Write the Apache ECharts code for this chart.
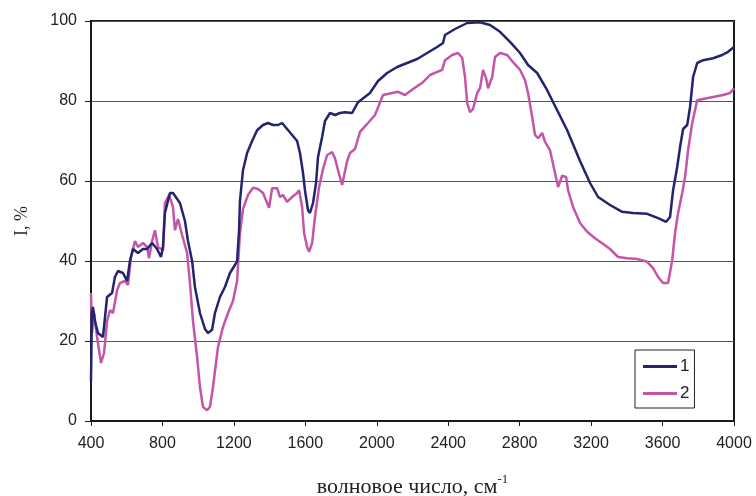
<!DOCTYPE html>
<html>
<head>
<meta charset="utf-8">
<script src="https://cdn.jsdelivr.net/npm/echarts@6/dist/echarts.min.js"></script>
<style>
  html, body { margin: 0; padding: 0; background: #fff; }
  #chart { width: 756px; height: 496px; }
</style>
</head>
<body>
<div id="chart"></div>
<script>
// Wavenumber axis ticks (cm-1) and intensity ticks (%)
const xTicks = [400, 800, 1200, 1600, 2000, 2400, 2800, 3200, 3600, 4000];
const yTicks = [0, 20, 40, 60, 80, 100];

const seriesNames = ['1', '2'];

// Spectrum 1: [wavenumber, intensity]
const spectrum1 = [
  [400, 10], [405, 27], [411, 28.5], [422, 25], [439, 22], [467, 21], [490, 31], [518, 32],
  [534, 36], [551, 37.5], [579, 37], [602, 35], [618, 40], [635, 43], [663, 42], [691, 43],
  [714, 43], [742, 44.5], [770, 43], [792, 41], [803, 43.5], [814, 52], [842, 57], [859, 57],
  [898, 54.5], [926, 50], [943, 45], [966, 40], [982, 33.5], [1010, 27], [1038, 23], [1055, 22],
  [1078, 22.8], [1094, 27], [1122, 31], [1150, 33.5], [1178, 37], [1206, 39], [1218, 40],
  [1229, 47.7], [1234, 55], [1251, 62.7], [1274, 67], [1302, 70], [1330, 72.7], [1363, 74],
  [1391, 74.5], [1419, 74], [1447, 74], [1470, 74.5], [1498, 73], [1526, 71.5], [1554, 70],
  [1570, 67], [1587, 62], [1598, 57.7], [1615, 52.7], [1626, 52], [1643, 54.5], [1660, 59.5],
  [1671, 66], [1694, 71], [1710, 75], [1738, 77], [1766, 76.5], [1794, 77], [1822, 77.2],
  [1862, 77], [1895, 79.7], [1906, 80], [1962, 82], [2007, 85], [2058, 87], [2114, 88.5],
  [2170, 89.5], [2226, 90.5], [2282, 92], [2338, 93.5], [2371, 94.5], [2382, 96.5], [2438, 98],
  [2506, 99.5], [2578, 99.7], [2634, 99], [2690, 97.3], [2746, 94.8], [2802, 92], [2847, 89],
  [2898, 87], [2954, 82.7], [3010, 77.7], [3066, 72.7], [3138, 65], [3194, 59.5], [3239, 56],
  [3306, 54], [3374, 52.3], [3435, 52], [3514, 51.8], [3575, 50.7], [3620, 49.8], [3642, 51],
  [3659, 57.7], [3682, 63.5], [3698, 68.5], [3715, 73], [3738, 74], [3754, 78.5], [3771, 86],
  [3794, 89.5], [3827, 90.2], [3883, 90.7], [3934, 91.5], [3967, 92.3], [4000, 93.5]
];

// Spectrum 2: [wavenumber, intensity]
const spectrum2 = [
  [400, 32], [406, 22], [417, 27], [434, 21], [456, 14.5], [473, 17], [490, 25], [506, 27.7],
  [523, 27], [546, 32.7], [562, 34.5], [590, 35], [607, 34], [624, 41], [646, 45], [663, 43.5],
  [691, 44.5], [714, 43.5], [725, 40.7], [742, 45], [758, 47.7], [775, 43.5], [803, 42.7],
  [814, 54.5], [837, 56.5], [859, 53.5], [870, 47.7], [887, 50.5], [910, 46.5], [938, 42],
  [954, 34.5], [971, 25], [994, 16], [1010, 8.5], [1027, 3.5], [1050, 2.7], [1066, 3.5],
  [1083, 8.5], [1111, 18.5], [1139, 23.5], [1167, 27], [1195, 30], [1218, 35], [1234, 47],
  [1251, 53], [1279, 56.5], [1307, 58.3], [1335, 58], [1363, 57], [1386, 54.5], [1397, 53.3],
  [1414, 58.2], [1442, 58.2], [1458, 56], [1475, 56.5], [1498, 54.8], [1526, 56], [1554, 57],
  [1565, 57.7], [1582, 53.5], [1593, 47], [1610, 43.5], [1621, 42.3], [1638, 44.5], [1654, 51],
  [1677, 58.5], [1699, 63], [1722, 66.5], [1750, 67.2], [1766, 65.7], [1783, 62.7], [1806, 59],
  [1817, 59], [1834, 65], [1850, 67], [1878, 68], [1906, 72.3], [1951, 74.5], [1990, 76.5],
  [2035, 81.5], [2086, 82], [2119, 82.3], [2158, 81.5], [2203, 83], [2259, 84.7], [2298, 86.5],
  [2366, 87.8], [2382, 90.2], [2422, 91.5], [2455, 92], [2478, 90.8], [2494, 86], [2506, 79.5],
  [2522, 77.2], [2539, 78], [2562, 82], [2578, 83.2], [2595, 87.8], [2612, 85.7], [2623, 83.2],
  [2646, 86], [2662, 91], [2690, 92], [2730, 91.5], [2763, 89.7], [2802, 87.8], [2830, 85.2],
  [2847, 82], [2870, 76], [2886, 71.5], [2903, 70.7], [2926, 72], [2942, 69.8], [2970, 67.7],
  [2998, 62], [3015, 58.5], [3038, 61.3], [3060, 61], [3071, 57.7], [3099, 53.5], [3138, 49.5],
  [3178, 47.3], [3222, 45.7], [3250, 44.8], [3306, 43], [3351, 41], [3402, 40.7], [3458, 40.5],
  [3514, 39.8], [3547, 38.2], [3575, 36], [3603, 34.5], [3631, 34.5], [3654, 40.2], [3670, 47],
  [3687, 52], [3710, 57], [3726, 61], [3743, 67.7], [3766, 74.5], [3794, 80.2], [3827, 80.5],
  [3883, 81], [3939, 81.5], [3978, 82], [4000, 83.2]
];

const colors = ['#23236f', '#c455a8'];

const chart = echarts.init(document.getElementById('chart'), null, { renderer: 'canvas' });

const tickFont = { fontFamily: 'Liberation Sans, Arial, sans-serif', fontSize: 16, color: '#222' };
const serif = 'Liberation Serif, Times New Roman, serif';

chart.setOption({
  animation: false,
  backgroundColor: '#fff',
  grid: {
    left: 91, right: 22, top: 21, bottom: 75,
    outerBoundsMode: 'none',
    containLabel: false,
    show: true, borderColor: '#1a1a1a', borderWidth: 2, backgroundColor: '#fff'
  },
  legend: {
    data: seriesNames,
    orient: 'vertical',
    left: 635, top: 350,
    padding: [8, 5, 6, 8],
    itemGap: 10,
    itemWidth: 34, itemHeight: 3,
    icon: 'rect',
    borderColor: '#222', borderWidth: 1,
    backgroundColor: '#fff',
    textStyle: { fontFamily: 'Liberation Sans, Arial, sans-serif', fontSize: 17, color: '#222', padding: [0, 0, 0, -2] }
  },
  xAxis: {
    type: 'value',
    min: xTicks[0], max: xTicks[xTicks.length - 1], interval: 400,
    axisLine: { show: true, lineStyle: { color: '#1a1a1a', width: 2 } },
    axisTick: { show: true, inside: false, length: 5, lineStyle: { color: '#1a1a1a', width: 1 } },
    axisLabel: { ...tickFont, margin: 15, formatter: v => String(v) },
    splitLine: { show: false },
    name: '{a|волновое число, см}{b|-1}',
    nameLocation: 'middle',
    nameGap: 52,
    nameTextStyle: {
      rich: {
        a: { fontFamily: serif, fontSize: 22, color: '#222' },
        b: { fontFamily: serif, fontSize: 13, color: '#222', verticalAlign: 'top', padding: [0, 0, 15, 0] }
      }
    }
  },
  yAxis: {
    type: 'value',
    min: yTicks[0], max: yTicks[yTicks.length - 1], interval: 20,
    axisLine: { show: true, lineStyle: { color: '#1a1a1a', width: 2 } },
    axisTick: { show: true, inside: false, length: 6, lineStyle: { color: '#1a1a1a', width: 1 } },
    axisLabel: { ...tickFont, margin: 14, formatter: v => String(v) },
    splitLine: { show: true, lineStyle: { color: '#555', width: 1.2 } },
    name: 'I, %',
    nameLocation: 'middle',
    nameGap: 60,
    nameTextStyle: { fontFamily: serif, fontSize: 18, color: '#222' }
  },
  series: [
    {
      name: seriesNames[0], type: 'line', data: spectrum1, showSymbol: false, symbol: 'none',
      lineStyle: { color: colors[0], width: 2.5 }, itemStyle: { color: colors[0] }, z: 3
    },
    {
      name: seriesNames[1], type: 'line', data: spectrum2, showSymbol: false, symbol: 'none',
      lineStyle: { color: colors[1], width: 2.5 }, itemStyle: { color: colors[1] }, z: 2
    }
  ]
});
</script>
</body>
</html>
